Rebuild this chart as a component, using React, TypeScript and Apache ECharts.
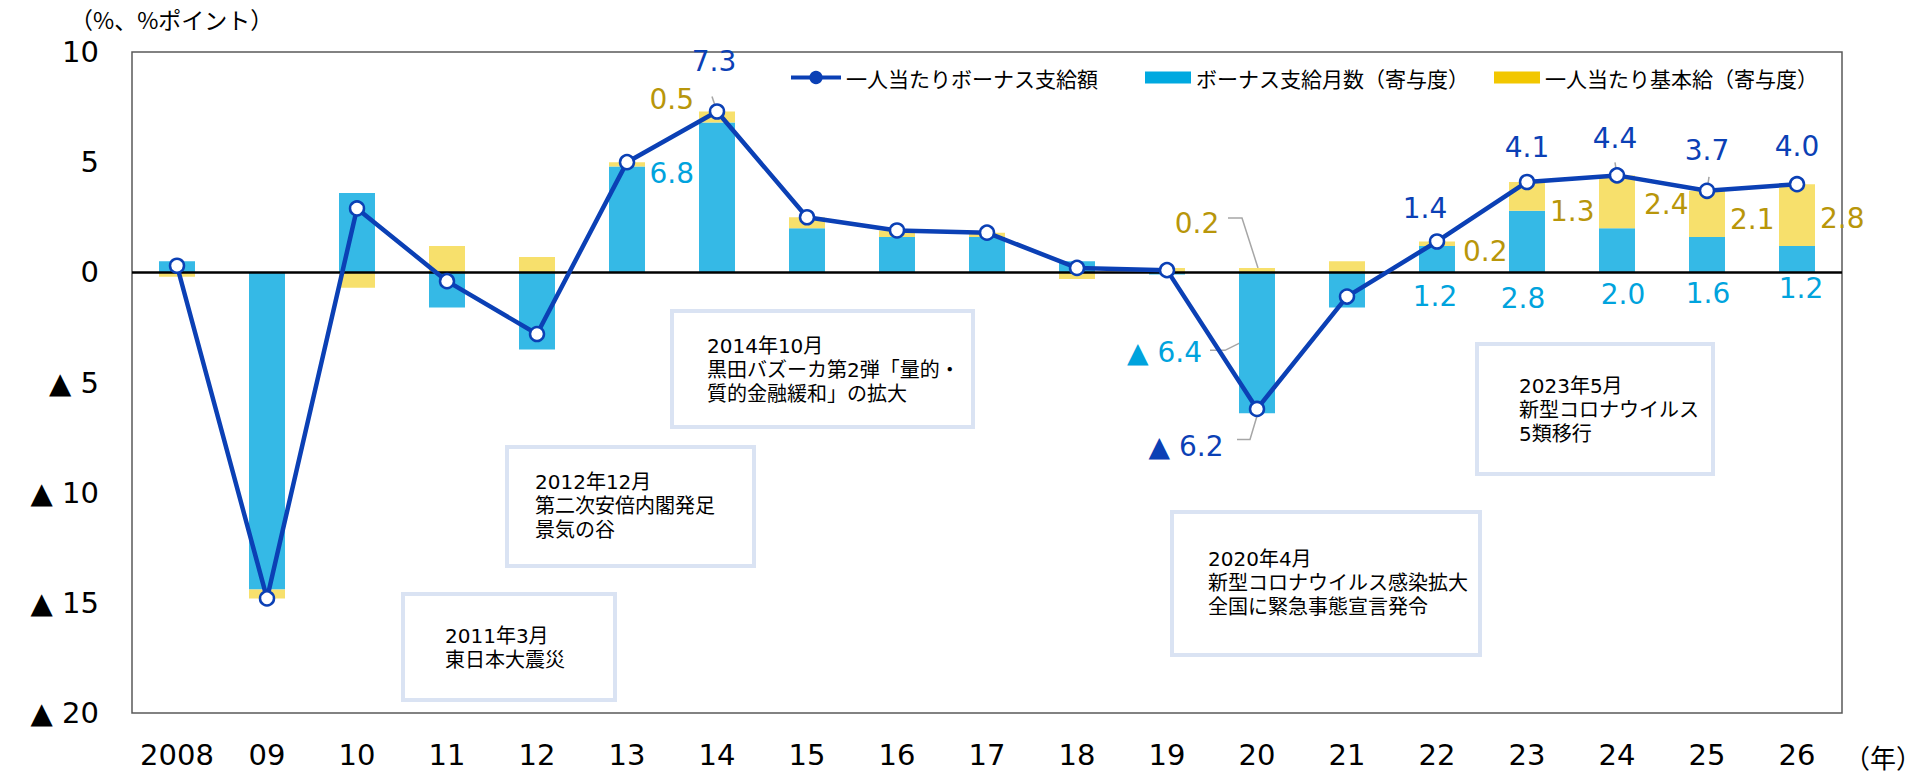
import React, { useEffect, useRef } from "react";
import * as echarts from "echarts";

const years = ["2008", "09", "10", "11", "12", "13", "14", "15", "16", "17", "18", "19", "20", "21", "22", "23", "24", "25", "26"];
const bonusPerPerson = [0.3, -14.8, 2.9, -0.4, -2.8, 5.0, 7.3, 2.5, 1.9, 1.8, 0.2, 0.1, -6.2, -1.1, 1.4, 4.1, 4.4, 3.7, 4.0];
const bonusMonths = [0.5, -14.4, 3.6, -1.6, -3.5, 4.8, 6.8, 2.0, 1.6, 1.6, 0.5, -0.1, -6.4, -1.6, 1.2, 2.8, 2.0, 1.6, 1.2];
const basePay = [-0.2, -0.4, -0.7, 1.2, 0.7, 0.2, 0.5, 0.5, 0.3, 0.2, -0.3, 0.2, 0.2, 0.5, 0.2, 1.3, 2.4, 2.1, 2.8];
const yMin = -20;
const yMax = 10;
const yInterval = 5;

const NAME_LINE = "一人当たりボーナス支給額";
const NAME_MONTHS = "ボーナス支給月数（寄与度）";
const NAME_BASE = "一人当たり基本給（寄与度）";

const annotations = [
  { lines: ["2014年10月", "黒田バズーカ第2弾「量的・", "質的金融緩和」の拡大"], box: [672, 311, 301, 116], text: [707, 334] },
  { lines: ["2012年12月", "第二次安倍内閣発足", "景気の谷"], box: [507, 447, 247, 119], text: [535, 470] },
  { lines: ["2011年3月", "東日本大震災"], box: [403, 594, 212, 106], text: [445, 624] },
  { lines: ["2020年4月", "新型コロナウイルス感染拡大", "全国に緊急事態宣言発令"], box: [1172, 512, 308, 143], text: [1208, 547] },
  { lines: ["2023年5月", "新型コロナウイルス", "5類移行"], box: [1477, 344, 236, 130], text: [1519, 374] },
];

// label placement (index -> [position, dx, dy])
const lineLabelSpec: Record<number, [string, number, number]> = {
  6: ["top", -3, -23],
  12: ["bottom", -71, 10],
  14: ["top", -12, -6],
  15: ["top", 0, -7],
  16: ["top", -2, -10],
  17: ["top", 0, -13],
  18: ["top", 0, -10],
};
const monthsLabelSpec: Record<number, [string, number, number]> = {
  6: ["left", 0, -24],
  12: ["left", -32, 10],
  14: ["bottom", -2, 5],
  15: ["bottom", -4, 7],
  16: ["bottom", 6, 3],
  17: ["bottom", 1, 2],
  18: ["bottom", 4, -3],
};
const baseLabelSpec: Record<number, [string, number, number]> = {
  6: ["left", 0, -17],
  12: ["top", -60, -25],
  14: ["right", 3, 8],
  15: ["right", 0, 15],
  16: ["right", 4, 3],
  17: ["right", 0, 6],
  18: ["right", 0, 3],
};

const NUM_FONT = "'DejaVu Sans', 'Noto Sans CJK JP', sans-serif";
const JP_FONT = "'Noto Sans CJK JP', sans-serif";
const C_LINE = "#0B40B5";
const C_BLUE = "#35B9E6";
const C_YELLOW = "#F7E06C";
const C_BLUE_TXT = "#00A3DD";
const C_YELLOW_TXT = "#B8960A";

const fmt = (v: number) => (v < 0 ? "▲ " + Math.abs(v).toFixed(1) : v.toFixed(1));

function withLabels(values: number[], spec: Record<number, [string, number, number]>) {
  return values.map((v, i) => {
    const s = spec[i];
    if (!s) return { value: v };
    return { value: v, label: { show: true, position: s[0], offset: [s[1], s[2]] } };
  });
}

export default function App() {
  const ref = useRef<HTMLDivElement>(null);
  useEffect(() => {
    document.body.style.margin = "0";
    if (!ref.current) return;
    const chart = echarts.init(ref.current, undefined, { renderer: "svg" });
    const option: any = {
      animation: false,
      backgroundColor: "#fff",
      grid: { left: 132, right: 79, top: 52, bottom: 65, show: true, borderColor: "#595959", borderWidth: 1.5 },
      legend: [
        {
          left: 784,
          top: 62,
          itemWidth: 50,
          itemHeight: 14,
          selectedMode: false,
          textStyle: { fontSize: 21, fontFamily: JP_FONT, color: "#000" },
          data: [{ name: NAME_LINE, itemStyle: { color: C_LINE, borderColor: C_LINE }, lineStyle: { color: C_LINE, width: 4 } }],
        },
        {
          left: 1140,
          top: 62,
          itemWidth: 46,
          itemHeight: 12,
          itemGap: 25,
          selectedMode: false,
          textStyle: { fontSize: 21, fontFamily: JP_FONT, color: "#000" },
          data: [
            { name: NAME_MONTHS, icon: "rect", itemStyle: { color: "#00A9E0" } },
            { name: NAME_BASE, icon: "rect", itemStyle: { color: "#F2C700" } },
          ],
        },
      ],
      xAxis: {
        type: "category",
        data: years,
        axisLine: { show: false },
        axisTick: { show: false },
        axisLabel: { interval: 0, fontSize: 29, fontFamily: NUM_FONT, color: "#000", margin: 27 },
      },
      yAxis: {
        type: "value",
        min: yMin,
        max: yMax,
        interval: yInterval,
        axisLine: { show: false },
        axisTick: { show: false },
        splitLine: { show: false },
        axisLabel: {
          fontSize: 29,
          fontFamily: NUM_FONT,
          color: "#000",
          margin: 33,
          formatter: (v: number) => (v < 0 ? "▲ " + Math.abs(v) : String(v)),
        },
      },
      series: [
        {
          name: NAME_MONTHS,
          type: "bar",
          stack: "total",
          barWidth: 36,
          itemStyle: { color: C_BLUE },
          label: { show: false, color: C_BLUE_TXT, fontSize: 28, fontFamily: NUM_FONT, formatter: (p: any) => fmt(p.value) },
          data: withLabels(bonusMonths, monthsLabelSpec),
        },
        {
          name: NAME_BASE,
          type: "bar",
          stack: "total",
          barWidth: 36,
          itemStyle: { color: C_YELLOW },
          label: { show: false, color: C_YELLOW_TXT, fontSize: 28, fontFamily: NUM_FONT, formatter: (p: any) => fmt(p.value) },
          data: withLabels(basePay, baseLabelSpec),
        },
        {
          name: NAME_LINE,
          type: "line",
          z: 5,
          symbol: "circle",
          symbolSize: 14,
          showAllSymbol: true,
          lineStyle: { color: C_LINE, width: 4.5 },
          itemStyle: { color: "#fff", borderColor: C_LINE, borderWidth: 2.5 },
          label: { show: false, color: C_LINE, fontSize: 28, fontFamily: NUM_FONT, formatter: (p: any) => fmt(p.value) },
          data: withLabels(bonusPerPerson, lineLabelSpec),
          markLine: {
            silent: true,
            symbol: "none",
            label: { show: false },
            lineStyle: { color: "#000", width: 2.5, type: "solid" },
            data: [{ yAxis: 0 }],
          },
        },
      ],
    };
    chart.setOption(option);

    const px = (i: number, v: number) => chart.convertToPixel({ xAxisIndex: 0, yAxisIndex: 0 }, [i, v]) as number[];
    const gray = { stroke: "#A6A6A6", lineWidth: 1.5, fill: "none" };
    const half = 18;
    const leaders: any[] = [];
    {
      const [x, y] = px(12, bonusMonths[12] / 2);
      const l = x - half;
      leaders.push({ type: "polyline", shape: { points: [[l + 1, y], [l - 14, y + 7.5], [l - 29, y + 7.5]] }, style: gray });
    }
    {
      const [x, y] = px(12, bonusPerPerson[12]);
      leaders.push({ type: "polyline", shape: { points: [[x, y + 7], [x - 7, y + 30.5], [x - 20, y + 30.5]] }, style: gray });
    }
    {
      const [x, y] = px(12, basePay[12]);
      leaders.push({ type: "polyline", shape: { points: [[x + 1, y], [x - 15, y - 50], [x - 29, y - 50]] }, style: gray });
    }
    const ticks: [number, number, number][] = [[6, -5, -15], [16, -2, -13], [17, 2, -14]];
    ticks.forEach(([i, dx, dy]) => {
      const [x, y] = px(i, bonusPerPerson[i]);
      leaders.push({ type: "line", shape: { x1: x + dx, y1: y + dy, x2: x, y2: y }, style: gray });
    });

    const boxes: any[] = [];
    annotations.forEach((a) => {
      boxes.push({
        type: "rect",
        shape: { x: a.box[0], y: a.box[1], width: a.box[2], height: a.box[3] },
        style: { fill: "#fff", stroke: "#DAE3F3", lineWidth: 4 },
      });
      boxes.push({
        type: "text",
        x: a.text[0],
        y: a.text[1],
        style: { text: a.lines.join("\n"), font: `20px ${NUM_FONT}`, lineHeight: 24, fill: "#000" },
      });
    });

    chart.setOption({
      graphic: {
        elements: [
          ...boxes,
          ...leaders,
          { type: "text", x: 70, y: 7, style: { text: "（%、%ポイント）", font: `23px ${JP_FONT}`, fill: "#000" } },
          { type: "text", x: 1844, y: 743, style: { text: "（年）", font: `26px ${JP_FONT}`, fill: "#000" } },
        ],
      },
    });

    return () => chart.dispose();
  }, []);
  return <div ref={ref} style={{ width: 1921, height: 778 }} />;
}
